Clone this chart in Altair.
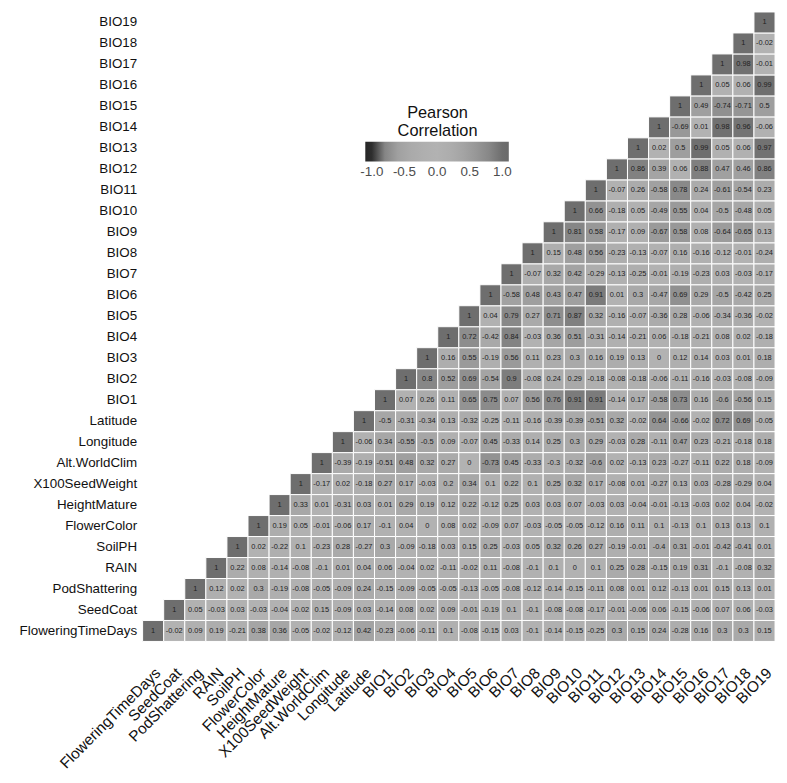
import altair as alt
import pandas as pd

variables = ["FloweringTimeDays", "SeedCoat", "PodShattering", "RAIN", "SoilPH",
             "FlowerColor", "HeightMature", "X100SeedWeight", "Alt.WorldClim",
             "Longitude", "Latitude", "BIO1", "BIO2", "BIO3", "BIO4", "BIO5", "BIO6",
             "BIO7", "BIO8", "BIO9", "BIO10", "BIO11", "BIO12", "BIO13", "BIO14",
             "BIO15", "BIO16", "BIO17", "BIO18", "BIO19"]

# each row starts at its diagonal cell and runs to BIO19
r_FloweringTimeDays = [1, -0.02, 0.09, 0.19, -0.21, 0.38, 0.36, -0.05, -0.02, -0.12, 0.42,
                       -0.23, -0.06, -0.11, 0.1, -0.08, -0.15, 0.03, -0.1, -0.14, -0.15,
                       -0.25, 0.3, 0.15, 0.24, -0.28, 0.16, 0.3, 0.3, 0.15]
r_SeedCoat = [1, 0.05, -0.03, 0.03, -0.03, -0.04, -0.02, 0.15, -0.09, 0.03,
              -0.14, 0.08, 0.02, 0.09, -0.01, -0.19, 0.1, -0.1, -0.08, -0.08,
              -0.17, -0.01, -0.06, 0.06, -0.15, -0.06, 0.07, 0.06, -0.03]
r_PodShattering = [1, 0.12, 0.02, 0.3, -0.19, -0.08, -0.05, -0.09, 0.24,
                   -0.15, -0.09, -0.05, -0.05, -0.13, -0.05, -0.08, -0.12, -0.14, -0.15,
                   -0.11, 0.08, 0.01, 0.12, -0.13, 0.01, 0.15, 0.13, 0.01]
r_RAIN = [1, 0.22, 0.08, -0.14, -0.08, -0.1, 0.01, 0.04,
          0.06, -0.04, 0.02, -0.11, -0.02, 0.11, -0.08, -0.1, 0.1, 0,
          0.1, 0.25, 0.28, -0.15, 0.19, 0.31, -0.1, -0.08, 0.32]
r_SoilPH = [1, 0.02, -0.22, 0.1, -0.23, 0.28, -0.27,
            0.3, -0.09, -0.18, 0.03, 0.15, 0.25, -0.03, 0.05, 0.32, 0.26,
            0.27, -0.19, -0.01, -0.4, 0.31, -0.01, -0.42, -0.41, 0.01]
r_FlowerColor = [1, 0.19, 0.05, -0.01, -0.06, 0.17,
                 -0.1, 0.04, 0, 0.08, 0.02, -0.09, 0.07, -0.03, -0.05, -0.05,
                 -0.12, 0.16, 0.11, 0.1, -0.13, 0.1, 0.13, 0.13, 0.1]
r_HeightMature = [1, 0.33, 0.01, -0.31, 0.03,
                  0.01, 0.29, 0.19, 0.12, 0.22, -0.12, 0.25, 0.03, 0.03, 0.07,
                  -0.03, 0.03, -0.04, -0.01, -0.13, -0.03, 0.02, 0.04, -0.02]
r_X100SeedWeight = [1, -0.17, 0.02, -0.18,
                    0.27, 0.17, -0.03, 0.2, 0.34, 0.1, 0.22, 0.1, 0.25, 0.32,
                    0.17, -0.08, 0.01, -0.27, 0.13, 0.03, -0.28, -0.29, 0.04]
r_AltWorldClim = [1, -0.39, -0.19,
                  -0.51, 0.48, 0.32, 0.27, 0, -0.73, 0.45, -0.33, -0.3, -0.32,
                  -0.6, 0.02, -0.13, 0.23, -0.27, -0.11, 0.22, 0.18, -0.09]
r_Longitude = [1, -0.06,
               0.34, -0.55, -0.5, 0.09, -0.07, 0.45, -0.33, 0.14, 0.25, 0.3,
               0.29, -0.03, 0.28, -0.11, 0.47, 0.23, -0.21, -0.18, 0.18]
r_Latitude = [1,
              -0.5, -0.31, -0.34, 0.13, -0.32, -0.25, -0.11, -0.16, -0.39, -0.39,
              -0.51, 0.32, -0.02, 0.64, -0.66, -0.02, 0.72, 0.69, -0.05]
r_BIO1 = [1, 0.07, 0.26, 0.11, 0.65, 0.75, 0.07, 0.56, 0.76, 0.91,
          0.91, -0.14, 0.17, -0.58, 0.73, 0.16, -0.6, -0.56, 0.15]
r_BIO2 = [1, 0.8, 0.52, 0.69, -0.54, 0.9, -0.08, 0.24, 0.29,
          -0.18, -0.08, -0.18, -0.06, -0.11, -0.16, -0.03, -0.08, -0.09]
r_BIO3 = [1, 0.16, 0.55, -0.19, 0.56, 0.11, 0.23, 0.3,
          0.16, 0.19, 0.13, 0, 0.12, 0.14, 0.03, 0.01, 0.18]
r_BIO4 = [1, 0.72, -0.42, 0.84, -0.03, 0.36, 0.51,
          -0.31, -0.14, -0.21, 0.06, -0.18, -0.21, 0.08, 0.02, -0.18]
r_BIO5 = [1, 0.04, 0.79, 0.27, 0.71, 0.87,
          0.32, -0.16, -0.07, -0.36, 0.28, -0.06, -0.34, -0.36, -0.02]
r_BIO6 = [1, -0.58, 0.48, 0.43, 0.47,
          0.91, 0.01, 0.3, -0.47, 0.69, 0.29, -0.5, -0.42, 0.25]
r_BIO7 = [1, -0.07, 0.32, 0.42,
          -0.29, -0.13, -0.25, -0.01, -0.19, -0.23, 0.03, -0.03, -0.17]
r_BIO8 = [1, 0.15, 0.48,
          0.56, -0.23, -0.13, -0.07, 0.16, -0.16, -0.12, -0.01, -0.24]
r_BIO9 = [1, 0.81, 0.58, -0.17, 0.09, -0.67, 0.58, 0.08, -0.64, -0.65, 0.13]
r_BIO10 = [1, 0.66, -0.18, 0.05, -0.49, 0.55, 0.04, -0.5, -0.48, 0.05]
r_BIO11 = [1, -0.07, 0.26, -0.58, 0.78, 0.24, -0.61, -0.54, 0.23]
r_BIO12 = [1, 0.86, 0.39, 0.06, 0.88, 0.47, 0.46, 0.86]
r_BIO13 = [1, 0.02, 0.5, 0.99, 0.05, 0.06, 0.97]
r_BIO14 = [1, -0.69, 0.01, 0.98, 0.96, -0.06]
r_BIO15 = [1, 0.49, -0.74, -0.71, 0.5]
r_BIO16 = [1, 0.05, 0.06, 0.99]
r_BIO17 = [1, 0.98, -0.01]
r_BIO18 = [1, -0.02]
r_BIO19 = [1]

rows = [r_FloweringTimeDays, r_SeedCoat, r_PodShattering, r_RAIN, r_SoilPH,
        r_FlowerColor, r_HeightMature, r_X100SeedWeight, r_AltWorldClim,
        r_Longitude, r_Latitude, r_BIO1, r_BIO2, r_BIO3, r_BIO4, r_BIO5, r_BIO6,
        r_BIO7, r_BIO8, r_BIO9, r_BIO10, r_BIO11, r_BIO12, r_BIO13, r_BIO14,
        r_BIO15, r_BIO16, r_BIO17, r_BIO18, r_BIO19]

records = []
for i, vals in enumerate(rows):
    for k, v in enumerate(vals):
        records.append({"x": variables[i + k], "y": variables[i],
                        "r": v, "label": f"{v:g}"})
df = pd.DataFrame(records)

# evenly spaced colour stops (grey diverging palette); the bar runs a little
# past +-1 as in the reference legend
color_domain = [-1.1, -1.0, -0.9, -0.8, -0.7, -0.6, -0.5, -0.4, -0.3, -0.2, -0.1, 0.0,
                0.1, 0.2, 0.3, 0.4, 0.5, 0.6, 0.7, 0.8, 0.9, 1.0, 1.1]
color_range = ["#262626", "#2e2e2e", "#646464", "#858585", "#979797", "#a0a0a0", "#a6a6a6",
               "#aaaaaa", "#adadad", "#afafaf", "#b1b1b1", "#b2b2b2",
               "#b0b0b0", "#adadad", "#a9a9a9", "#a4a4a4", "#9e9e9e",
               "#979797", "#8f8f8f", "#878787", "#7d7d7d", "#6e6e6e", "#6a6a6a"]
legend_values = [-1, -0.5, 0, 0.5, 1]

FONT = "Liberation Sans"

x_enc = alt.X("x:N", sort=variables, title=None,
              scale=alt.Scale(paddingInner=0, paddingOuter=0),
              axis=alt.Axis(labelAngle=315, labelAlign="right", labelBaseline="top",
                            labelPadding=24, labelOffset=0, ticks=False, tickSize=0,
                            domain=False, grid=False, labelFontSize=15.5,
                            labelColor="#111111", labelFont=FONT))
y_enc = alt.Y("y:N", sort=list(reversed(variables)), title=None,
              scale=alt.Scale(paddingInner=0, paddingOuter=0),
              axis=alt.Axis(labelPadding=6, ticks=False, tickSize=0, domain=False,
                            grid=False, labelFontSize=13.5, labelColor="#111111",
                            labelFont=FONT))

base = alt.Chart(df).encode(x=x_enc, y=y_enc)

rect = base.mark_rect(stroke="white", strokeWidth=1).encode(
    color=alt.Color("r:Q",
                    scale=alt.Scale(domain=color_domain, range=color_range),
                    legend=alt.Legend(
                        title=["Pearson", "Correlation"], orient="none",
                        legendX=225, legendY=94, direction="horizontal",
                        gradientLength=145, gradientThickness=20,
                        titleFontSize=16.5, titleFontWeight="normal",
                        titleAlign="center", titleAnchor="middle",
                        titleColor="#111111", titleFont=FONT, titlePadding=2,
                        labelFontSize=13.5, labelColor="#4d4d4d", labelFont=FONT,
                        labelAlign="center", labelOverlap=False, labelOffset=4,
                        values=legend_values,
                        labelExpr="(datum.value < 0 ? '-' : '') + format(abs(datum.value), '.1f')",
                        gradientStrokeWidth=0))
)

text = base.mark_text(fontSize=7.5, color="#222222", font=FONT).encode(text="label:N")

chart = (rect + text).properties(
    width=639, height=636,
    background="white",
    autosize=alt.AutoSizeParams(type="none"),
    padding={"left": 136, "top": 0, "right": 4, "bottom": 139},
).configure_view(stroke=None, strokeWidth=0)

chart.save("out.html", embed_options={"renderer": "svg", "actions": False})
